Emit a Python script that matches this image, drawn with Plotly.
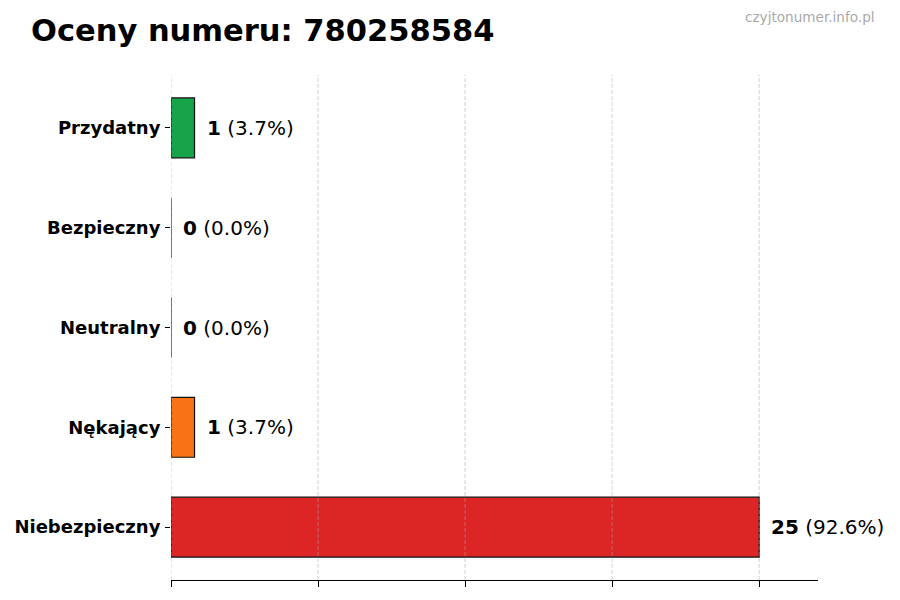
import plotly.graph_objects as go

# dane ocen (kolejność od góry wykresu)
categories = ["Przydatny", "Bezpieczny", "Neutralny", "Nękający", "Niebezpieczny"]
counts = [1, 0, 0, 1, 25]
colors = ["#16a34a", "#2563eb", "#6b7280", "#f97316", "#dc2626"]
grid_ticks = [0, 6.25, 12.5, 18.75, 25]
phone = "780258584"

total = sum(counts)

fig = go.Figure(
    go.Bar(
        x=counts,
        y=categories,
        orientation="h",
        width=0.6,
        marker=dict(color=colors, line=dict(color="#111111", width=1.2)),
        hoverinfo="skip",
    )
)

for cat, val in zip(categories, counts):
    pct = val / total * 100
    fig.add_annotation(
        x=val, y=cat, text=f"<b>{val}</b> ({pct:.1f}%)",
        showarrow=False, xanchor="left", xshift=10,
        font=dict(family="DejaVu Sans", size=20, color="#000000"),
    )

# siatka nad słupkami (jak w oryginale)
for t in grid_ticks:
    fig.add_shape(
        type="line", xref="x", yref="paper", x0=t, x1=t, y0=0, y1=1,
        line=dict(color="rgba(170,170,170,0.5)", width=1, dash="4px,2px"),
        layer="above",
    )

fig.add_annotation(
    xref="paper", yref="paper", x=1.091, y=1.115,
    text="czyjtonumer.info.pl", showarrow=False, xanchor="right", yanchor="middle",
    font=dict(family="DejaVu Sans", size=13.6, color="#aaaaaa"),
)

fig.update_layout(
    width=900, height=600,
    margin=dict(l=163, r=90, t=67, b=28, autoexpand=False),
    paper_bgcolor="white", plot_bgcolor="white",
    showlegend=False,
    title=dict(
        text=f"<b>Oceny numeru: {phone}</b>",
        xref="container", yref="container", x=23 / 900, y=0.963,
        xanchor="left", yanchor="middle",
        font=dict(family="DejaVu Sans", size=30.5, color="#000000"),
    ),
    xaxis=dict(
        range=[0, 27.5], tickvals=grid_ticks, showticklabels=False,
        ticks="outside", ticklen=6, tickcolor="#000000", tickwidth=1,
        showline=True, linecolor="#000000", linewidth=1.2,
        showgrid=False, zeroline=False, automargin=False,
    ),
    yaxis=dict(
        range=[4.53, -0.53], ticks="outside", ticklen=5, tickcolor="#000000",
        showline=False, showgrid=False, zeroline=False, automargin=False,
        tickfont=dict(family="DejaVu Sans", size=18, color="#000000"),
        ticklabelstandoff=1,
    ),
)

fig.update_yaxes(tickprefix="<b>", ticksuffix="</b>")

fig.write_html("out.html")
